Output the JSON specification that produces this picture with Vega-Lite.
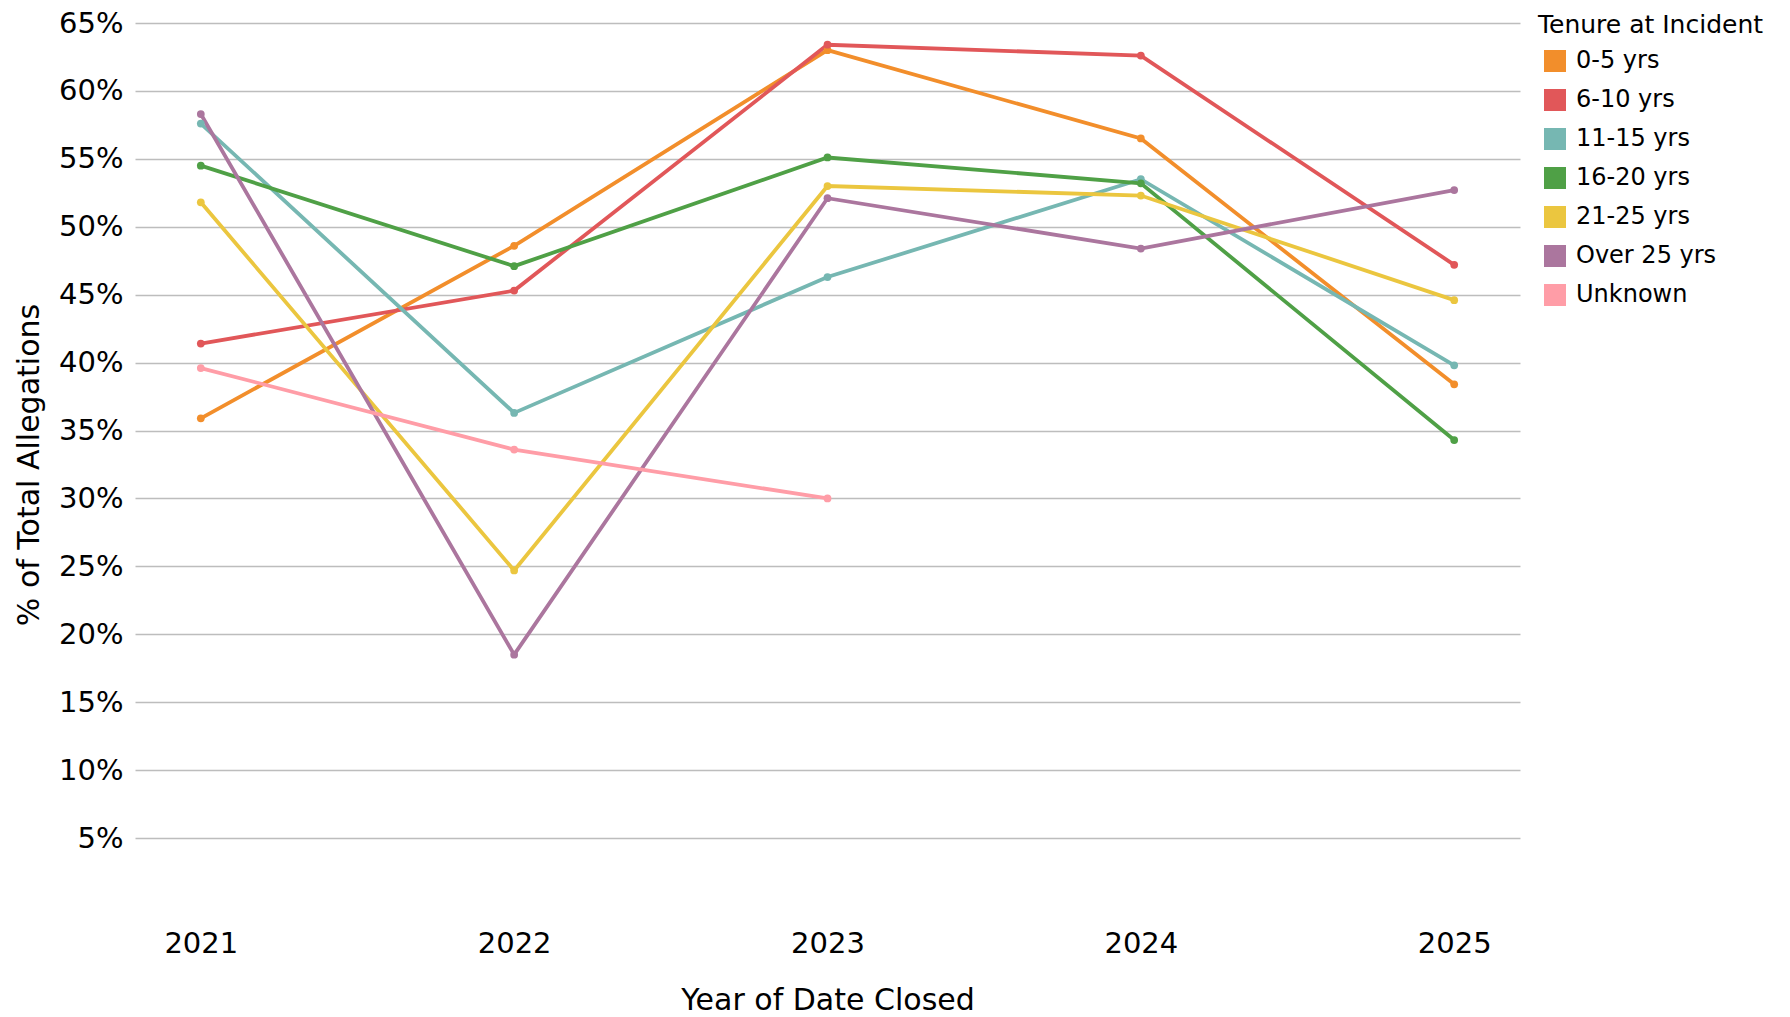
{
  "$schema": "https://vega.github.io/schema/vega-lite/v6.json",
  "width": 1385,
  "height": 883,
  "autosize": {"type": "none"},
  "padding": {"left": 135, "top": 23, "right": 270, "bottom": 111},
  "background": "white",
  "config": {"view": {"stroke": null}, "font": "DejaVu Sans"},
  "data": {
    "values": [
      {"tenure": "0-5 yrs", "year": "2021", "pct": 0.359},
      {"tenure": "0-5 yrs", "year": "2022", "pct": 0.486},
      {"tenure": "0-5 yrs", "year": "2023", "pct": 0.630},
      {"tenure": "0-5 yrs", "year": "2024", "pct": 0.565},
      {"tenure": "0-5 yrs", "year": "2025", "pct": 0.384},
      {"tenure": "6-10 yrs", "year": "2021", "pct": 0.414},
      {"tenure": "6-10 yrs", "year": "2022", "pct": 0.453},
      {"tenure": "6-10 yrs", "year": "2023", "pct": 0.634},
      {"tenure": "6-10 yrs", "year": "2024", "pct": 0.626},
      {"tenure": "6-10 yrs", "year": "2025", "pct": 0.472},
      {"tenure": "11-15 yrs", "year": "2021", "pct": 0.576},
      {"tenure": "11-15 yrs", "year": "2022", "pct": 0.363},
      {"tenure": "11-15 yrs", "year": "2023", "pct": 0.463},
      {"tenure": "11-15 yrs", "year": "2024", "pct": 0.535},
      {"tenure": "11-15 yrs", "year": "2025", "pct": 0.398},
      {"tenure": "16-20 yrs", "year": "2021", "pct": 0.545},
      {"tenure": "16-20 yrs", "year": "2022", "pct": 0.471},
      {"tenure": "16-20 yrs", "year": "2023", "pct": 0.551},
      {"tenure": "16-20 yrs", "year": "2024", "pct": 0.532},
      {"tenure": "16-20 yrs", "year": "2025", "pct": 0.343},
      {"tenure": "21-25 yrs", "year": "2021", "pct": 0.518},
      {"tenure": "21-25 yrs", "year": "2022", "pct": 0.247},
      {"tenure": "21-25 yrs", "year": "2023", "pct": 0.530},
      {"tenure": "21-25 yrs", "year": "2024", "pct": 0.523},
      {"tenure": "21-25 yrs", "year": "2025", "pct": 0.446},
      {"tenure": "Over 25 yrs", "year": "2021", "pct": 0.583},
      {"tenure": "Over 25 yrs", "year": "2022", "pct": 0.185},
      {"tenure": "Over 25 yrs", "year": "2023", "pct": 0.521},
      {"tenure": "Over 25 yrs", "year": "2024", "pct": 0.484},
      {"tenure": "Over 25 yrs", "year": "2025", "pct": 0.527},
      {"tenure": "Unknown", "year": "2021", "pct": 0.396},
      {"tenure": "Unknown", "year": "2022", "pct": 0.336},
      {"tenure": "Unknown", "year": "2023", "pct": 0.300}
    ]
  },
  "mark": {"type": "line", "strokeWidth": 3.8, "point": {"filled": true, "size": 60}},
  "encoding": {
    "x": {
      "field": "year",
      "type": "ordinal",
      "scale": {"type": "point", "padding": 0.21},
      "axis": {
        "title": "Year of Date Closed",
        "labelAngle": 0,
        "labelFontSize": 29,
        "labelPadding": 23,
        "labelColor": "#000000",
        "ticks": false,
        "domain": false,
        "grid": false,
        "titleFontSize": 30,
        "titleFontWeight": "normal",
        "titleColor": "#000000",
        "titlePadding": 27
      }
    },
    "y": {
      "field": "pct",
      "type": "quantitative",
      "scale": {"domain": [0, 0.65], "nice": false, "zero": true},
      "axis": {
        "title": "% of Total Allegations",
        "values": [0.05, 0.1, 0.15, 0.2, 0.25, 0.3, 0.35, 0.4, 0.45, 0.5, 0.55, 0.6, 0.65],
        "format": ".0%",
        "labelFontSize": 29,
        "labelPadding": 12,
        "labelColor": "#000000",
        "ticks": false,
        "domain": false,
        "gridColor": "#bdbdbd",
        "gridWidth": 1.5,
        "titleFontSize": 30,
        "titleFontWeight": "normal",
        "titleColor": "#000000",
        "titlePadding": 14
      }
    },
    "color": {
      "field": "tenure",
      "type": "nominal",
      "scale": {
        "domain": ["0-5 yrs", "6-10 yrs", "11-15 yrs", "16-20 yrs", "21-25 yrs", "Over 25 yrs", "Unknown"],
        "range": ["#F28E2B", "#E15759", "#76B7B2", "#4FA046", "#EBC63F", "#AB769E", "#FF9DA7"]
      },
      "legend": {
        "title": "Tenure at Incident",
        "orient": "none",
        "legendX": 1403,
        "legendY": -10,
        "titleFontSize": 25,
        "titleFontWeight": "normal",
        "titleColor": "#000000",
        "titleLimit": 400,
        "titlePadding": 11,
        "labelFontSize": 24,
        "labelLimit": 400,
        "labelColor": "#000000",
        "labelOffset": 9,
        "symbolOffset": 5,
        "symbolType": "square",
        "symbolSize": 484,
        "symbolStrokeWidth": 0,
        "symbolOpacity": 1,
        "rowPadding": 15,
        "encode": {
          "symbols": {
            "update": {
              "fill": {"scale": "color", "field": "value"},
              "stroke": {"value": "transparent"}
            }
          }
        }
      }
    }
  }
}
